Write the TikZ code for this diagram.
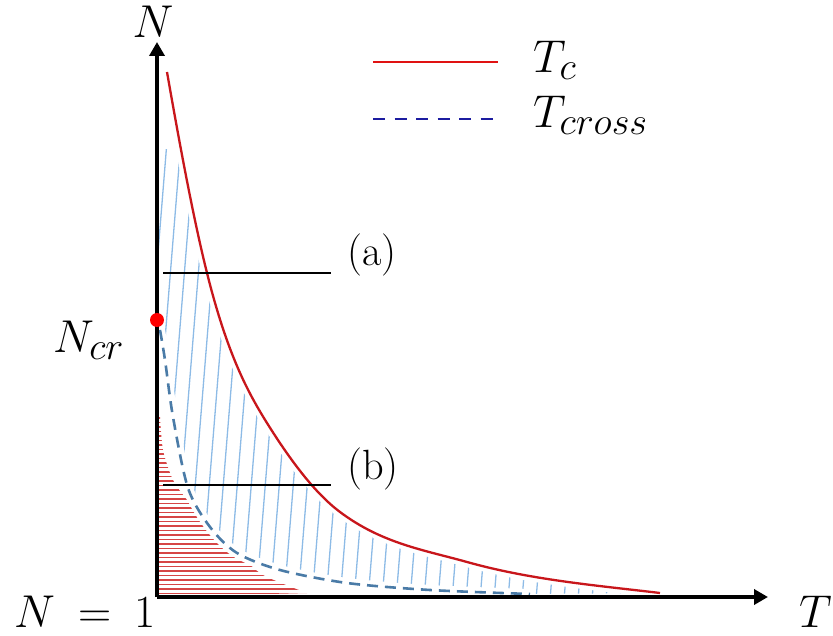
\documentclass[tikz,border=0pt]{standalone}
\usepackage{graphicx}
\usetikzlibrary{arrows.meta}
\definecolor{tcred}{HTML}{C8161B}
\definecolor{legred}{HTML}{E01212}
\definecolor{crossblue}{HTML}{4A7BA7}
\definecolor{legblue}{HTML}{1C1CA0}
\definecolor{hatchblue}{HTML}{8DBBE6}
\definecolor{hatchred}{HTML}{D64545}
\newcommand{\plotmath}[1]{\scalebox{1.85}{\Huge$#1$}}
\newcommand{\plottext}[1]{\scalebox{1.7}{\Huge #1}}
% T_c and T_cross curves
\newcommand{\tcpath}{(167,72) .. controls (180.3,148) and (193.7,219.7) .. (207,273)
    .. controls (227,353) and (247,391) .. (267,423)
    .. controls (291.3,461.9) and (315.7,493.8) .. (340,512)
    .. controls (382.3,543.7) and (424.7,550.1) .. (467,562)
    .. controls (531.3,580) and (595.7,585.3) .. (660,593)}
\newcommand{\crosspts}{(160,330) (165,360) (173,417) (188,488) (210,527)
    (237,553) (280,570) (347,583) (430,590) (530,594)}
\begin{document}
\begin{tikzpicture}[x=1pt,y=-1pt,
    axis/.style={line width=3.5pt,-{Triangle[length=14pt,width=15pt]}},
    tccurve/.style={tcred,line width=2.3pt},
    crosscurve/.style={crossblue,line width=2.6pt,dash pattern=on 11pt off 7pt},
    halo/.style={white,line width=10pt},
    bluehatch/.style={hatchblue,line width=1.3pt},
    redhatch/.style={hatchred,line width=1.3pt},
    cutline/.style={black,line width=1.6pt},
    biglabel/.style={inner sep=0pt}]
    \useasboundingbox (0,0) rectangle (833,636);

    % Blue hatching between T_cross and T_c
    \begin{scope}
        \clip (157,150) rectangle (833,600);
        \clip (157,72) -- \tcpath -- (530,594)
            -- plot[smooth] coordinates {(530,594) (430,590) (347,583) (280,570) (237,553)
            (210,527) (188,488) (173,417) (165,360) (160,330)} -- cycle;
        \foreach \x in {60,74,...,700}
            \draw[bluehatch] (\x,600) -- ++(50,-620);
    \end{scope}

    % Red hatching below T_cross
    \begin{scope}
        \clip (157,597) -- (157,415) -- plot[smooth] coordinates {(160,415) (163,450) (173,480)
            (187,500) (202,520) (220,540) (240,555) (263,575) (307,593)} -- cycle;
        \foreach \y in {418,422.5,...,596}
            \draw[redhatch] (157,\y) -- (320,\y);
    \end{scope}

    % Curves
    \draw[halo] \tcpath;
    \draw[halo] plot[smooth] coordinates {\crosspts};
    \draw[tccurve] \tcpath;
    \draw[crosscurve] plot[smooth] coordinates {\crosspts};

    % Axes
    \coordinate (origin) at (157,597);
    \coordinate (ytip) at (157,42);
    \coordinate (xtip) at (768,597);
    \draw[axis] (origin) -- (ytip);
    \draw[axis] (origin) -- (xtip);
    \node[biglabel,anchor=base] (ylab) at (153,38) {\plotmath{N}};
    \node[biglabel,anchor=base west] (xlab) at (799,627) {\plotmath{T}};
    \node[biglabel,anchor=base west] (onelab) at (14,627) {\plotmath{N\:=\:1}};

    % Critical point
    \fill[red] (157,320) circle (7pt);
    \node[biglabel,anchor=base west] (crlab) at (53,353) {\plotmath{N_{cr}}};

    % Cuts (a) and (b)
    \coordinate (a0) at (163,273);
    \coordinate (a1) at (331,273);
    \coordinate (b0) at (163,485);
    \coordinate (b1) at (331,485);
    \draw[cutline] (a0) -- (a1);
    \draw[cutline] (b0) -- (b1);
    \node[biglabel,anchor=base west] (alab) at (347,266) {\plottext{(a)}};
    \node[biglabel,anchor=base west] (blab) at (347,479) {\plottext{(b)}};

    % Legend
    \coordinate (l0) at (373,62);
    \coordinate (l1) at (498,62);
    \coordinate (m0) at (373,119);
    \coordinate (m1) at (498,119);
    \draw[legred,line width=2.6pt] (l0) -- (l1);
    \draw[legblue,line width=2.4pt,dash pattern=on 12pt off 9.5pt] (m0) -- (m1);
    \node[biglabel,anchor=base west] (tclab) at (533,73) {\plotmath{T_c}};
    \node[biglabel,anchor=base west] (crosslab) at (533,128) {\plotmath{T_{cross}}};
\end{tikzpicture}
\end{document}
